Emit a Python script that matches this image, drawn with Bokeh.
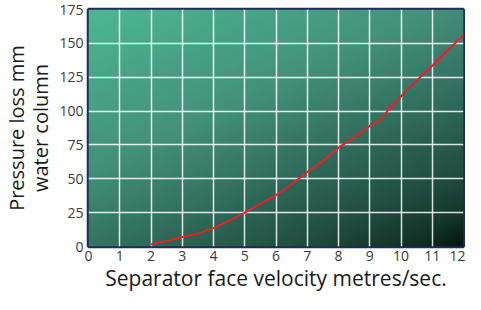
import numpy as np
from bokeh.plotting import figure
from bokeh.models import FixedTicker, Range1d
from bokeh.embed import file_html
from bokeh.resources import INLINE

# Data
velocity = [2, 2.5, 3, 3.5, 4, 4.5, 5, 5.5, 6, 6.5, 7, 7.5, 8, 8.5, 9, 9.3, 9.6, 10, 10.5, 11, 11.5, 12]
pressure = [1.5, 4, 7, 9.5, 13.6, 19, 25, 31.5, 38, 46, 55, 63, 73, 80.6, 89, 92.5, 101, 111, 122.5, 133.5, 145, 156]
x_ticks = list(range(0, 13))
y_ticks = [0, 25, 50, 75, 100, 125, 150, 175]

FONT = "Open Sans"

p = figure(width=465, height=294, output_backend="svg", toolbar_location=None,
           x_range=Range1d(0, 12), y_range=Range1d(0, 175),
           min_border_left=4, min_border_right=2, min_border_top=9, min_border_bottom=0)
p.background_fill_color = "white"
p.border_fill_color = "white"

# background gradient (decoration)
ny, nx = 120, 160
u = np.linspace(0, 1, nx)[None, :]
v = np.linspace(0, 1, ny)[:, None]  # 0 bottom, 1 top
t = np.clip(0.42 * u + 0.58 * (1 - v), 0, 1)
stops_t = [0.0, 0.4, 0.6, 0.8, 0.92, 1.0]
stops_c = np.array([[0x4c, 0xb8, 0x92], [0x43, 0x90, 0x7a], [0x33, 0x70, 0x5f],
                    [0x22, 0x50, 0x42], [0x14, 0x36, 0x2b], [0x04, 0x18, 0x12]], float)
img = np.empty((ny, nx), dtype=np.uint32)
view = img.view(dtype=np.uint8).reshape((ny, nx, 4))
for k in range(3):
    view[:, :, k] = np.interp(t, stops_t, stops_c[:, k]).astype(np.uint8)
view[:, :, 3] = 255
p.image_rgba(image=[img], x=0, y=0, dw=12, dh=175, level="image")

p.line(velocity, pressure, line_color="#e8202a", line_width=2)

p.outline_line_color = "#1f2a5e"
p.outline_line_width = 3.5

for g in (p.xgrid, p.ygrid):
    g.grid_line_color = "white"
    g.grid_line_width = 1.5
    g.grid_line_alpha = 0.85
    g.level = "underlay"
p.xgrid.ticker = FixedTicker(ticks=x_ticks)
p.ygrid.ticker = FixedTicker(ticks=y_ticks)
p.xaxis.ticker = FixedTicker(ticks=x_ticks)
p.yaxis.ticker = FixedTicker(ticks=y_ticks)

for ax in (p.xaxis[0], p.yaxis[0]):
    ax.axis_line_color = None
    ax.major_tick_line_color = None
    ax.minor_tick_line_color = None
    ax.major_tick_out = 0
    ax.major_tick_in = 0
    ax.major_label_text_font = FONT
    ax.major_label_text_font_size = "14px"
    ax.major_label_text_color = "#3a3a3a"
    ax.axis_label_text_font = FONT
    ax.axis_label_text_font_style = "normal"
    ax.axis_label_text_color = "#1a1a1a"

p.xaxis.axis_label = "Separator face velocity metres/sec."
p.xaxis.axis_label_text_font_size = "21px"
p.xaxis.major_label_standoff = 4
p.xaxis.axis_label_standoff = 0
p.yaxis.axis_label = "Pressure loss mm\nwater column"
p.yaxis.axis_label_text_font_size = "20px"
p.yaxis.major_label_standoff = 5
p.yaxis.axis_label_standoff = 2
p.yaxis.axis_label_text_line_height = 0.9

open("out.html", "w").write(file_html(p, INLINE))
